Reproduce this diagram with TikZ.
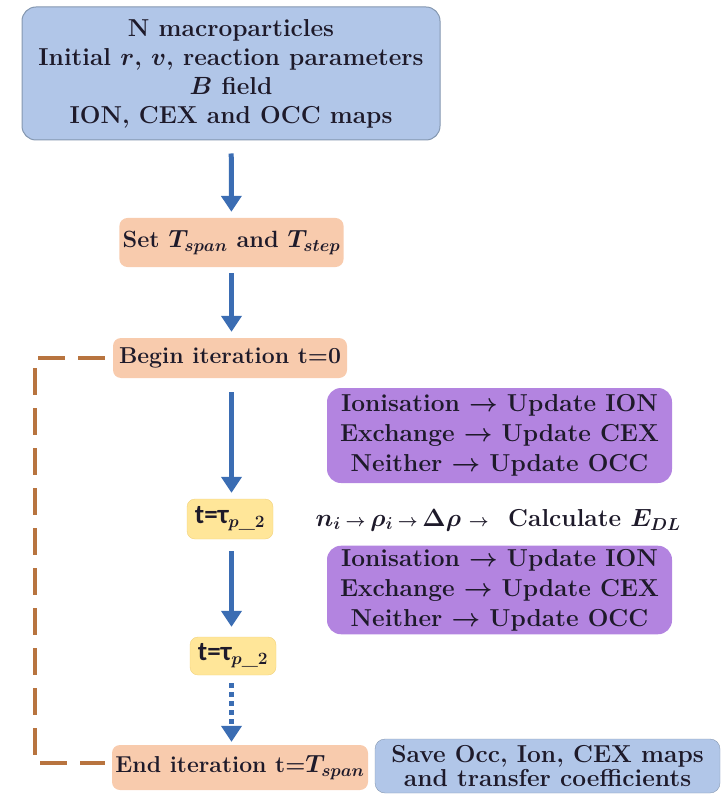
\documentclass[tikz,border=0pt]{standalone}
\usepackage{amsmath}
\usepackage{fontspec}
\newfontfamily\taufont{Carlito}
\usepackage{tikz}
\usetikzlibrary{arrows.meta}
\usetikzlibrary{positioning}
\definecolor{initblue}{HTML}{B1C6E8}
\definecolor{initborder}{HTML}{8497B0}
\definecolor{peach}{HTML}{F8CBAD}
\definecolor{tauyellow}{HTML}{FFE699}
\definecolor{tauborder}{HTML}{F2D27C}
\definecolor{updpurple}{HTML}{B384E0}
\definecolor{flowblue}{HTML}{3B6DB3}
\definecolor{loopbrown}{HTML}{B8743F}
\definecolor{textdark}{HTML}{1E1A2A}

\begin{document}
\begin{tikzpicture}[x=1pt, y=-1pt, every node/.style={font=\fontsize{24.5}{29}\selectfont\bfseries\boldmath, text=textdark}]
\tikzstyle{inputbox} = [rectangle, rounded corners=14pt, minimum width=418pt, minimum height=133pt, align=center, draw=initborder, fill=initblue, line width=1pt]
\tikzstyle{stepbox} = [rectangle, rounded corners=8pt, minimum height=44pt, align=center, fill=peach, font=\fontsize{23}{28}\selectfont\bfseries\boldmath]
\tikzstyle{taubox} = [rectangle, rounded corners=8pt, minimum width=86pt, minimum height=40pt, draw=tauborder, fill=tauyellow, font=\fontsize{27}{30}\selectfont\bfseries\boldmath]
\tikzstyle{updbox} = [rectangle, rounded corners=14pt, minimum width=345pt, align=center, fill=updpurple, font=\fontsize{24.5}{30}\selectfont\bfseries\boldmath]
\tikzstyle{savebox} = [rectangle, rounded corners=10pt, minimum width=345pt, minimum height=54pt, align=center, draw=initborder, fill=initblue, font=\fontsize{24.5}{24}\selectfont\bfseries\boldmath]
\tikzstyle{flow} = [line width=5pt, draw=flowblue, -{Triangle[width=20pt, length=16pt]}]
\tikzstyle{loop} = [line width=4pt, draw=loopbrown, dash pattern=on 27pt off 13pt]

\useasboundingbox (0,0) rectangle (722,794);

% Nodes
\node (init) [inputbox] at (231,73.5) {N macroparticles\\Initial $r$, $v$, reaction parameters\\$B$ field\\ION, CEX and OCC maps};
\node (setT) [stepbox, minimum width=217pt, minimum height=49pt, font=\fontsize{23.5}{28}\selectfont\bfseries\boldmath] at (231.5,242.5) {Set $T_{span}$ and $T_{step}$};
\node (begin) [stepbox, minimum width=234pt, minimum height=40pt] at (230,358) {Begin iteration t=0};
\node (tauA) [taubox] at (230,519) {{\taufont t=τ}$_{p\_2}$};
\node (tauB) [taubox, minimum height=38pt] at (233,656) {{\taufont t=τ}$_{p\_2}$};
\node (endit) [stepbox, minimum width=256pt, minimum height=45pt] at (240,767.5) {End iteration t=$T_{span}$};
\node (save) [savebox] at (547.5,766) {Save Occ, Ion, CEX maps\\and transfer coefficients};
\node (updA) [updbox, minimum height=95pt] at (499.5,435.5) {Ionisation $\rightarrow$ Update ION\\Exchange $\rightarrow$ Update CEX\\Neither $\rightarrow$ Update OCC};
\node (chain) [anchor=east, inner sep=0pt, font=\fontsize{23}{28}\selectfont\bfseries\boldmath] at (489,520) {$n_i \,{\scriptstyle\rightarrow}\, \rho_i \,{\scriptstyle\rightarrow}\, \Delta\rho \;{\scriptstyle\rightarrow}$};
\node (calc) [anchor=west, inner sep=0pt] at (508,520) {Calculate $E_{DL}$};
\node (updB) [updbox, minimum height=86pt] at (499.5,590) {Ionisation $\rightarrow$ Update ION\\Exchange $\rightarrow$ Update CEX\\Neither $\rightarrow$ Update OCC};

% Arrows
\draw [flow, shorten <=13pt, shorten >=6pt] (init) -- (setT);
\draw [flow, shorten <=6pt, shorten >=6pt] (setT) -- (setT |- begin.north);
\draw [flow, shorten <=14pt, shorten >=6pt] (begin.south -| setT) -- (setT |- tauA.north);
\draw [flow, shorten <=12pt, shorten >=10pt] (tauA.south -| setT) -- (setT |- tauB.north);
\draw [flow, dash pattern=on 5pt off 4pt, shorten <=8pt, shorten >=3pt] (tauB.south -| setT) -- (setT |- endit.north);

% Loop back
\draw [loop, shorten <=8pt, shorten >=7pt] (begin.west) -- ++(-78,0) |- ([yshift=5pt]endit.west);

\end{tikzpicture}
\end{document}
